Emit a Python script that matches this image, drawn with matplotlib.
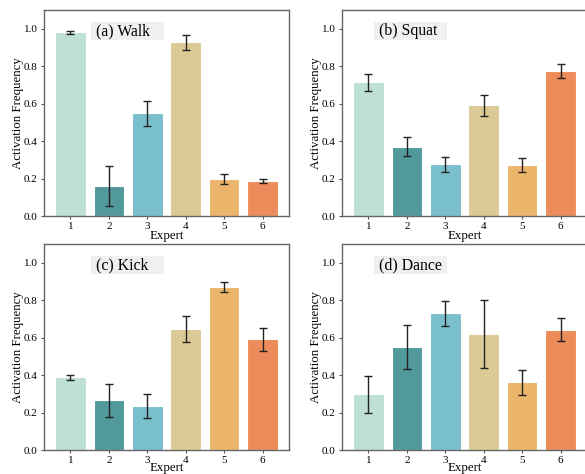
import numpy as np
import matplotlib.pyplot as plt
from matplotlib.patches import Rectangle

plt.rcParams['font.family'] = ['Liberation Serif', 'DejaVu Serif']

experts = ['1', '2', '3', '4', '5', '6']
colors = ['#bfe0d4', '#52999c', '#79c0cc', '#dcca94', '#ebb66b', '#ec8c5a']

titles = ['(a) Walk', '(b) Squat', '(c) Kick', '(d) Dance']
walk = [0.980, 0.161, 0.548, 0.929, 0.196, 0.186]
walk_err = [0.007, 0.107, 0.067, 0.040, 0.027, 0.012]
squat = [0.714, 0.371, 0.277, 0.591, 0.271, 0.773]
squat_err = [0.046, 0.049, 0.040, 0.057, 0.037, 0.038]
kick = [0.388, 0.266, 0.234, 0.648, 0.870, 0.591]
kick_err = [0.014, 0.088, 0.063, 0.070, 0.025, 0.061]
dance = [0.298, 0.548, 0.730, 0.618, 0.361, 0.643]
dance_err = [0.099, 0.117, 0.068, 0.182, 0.065, 0.060]

vals = [walk, squat, kick, dance]
errs = [walk_err, squat_err, kick_err, dance_err]

W, H = 585, 474
fig = plt.figure(figsize=(W / 100, H / 100), dpi=100)

# axes boxes in pixels: left, top
pos = [(44, 10), (342, 10), (44, 244), (342, 244)]
aw, ah = 245, 206
box_x = [0.19, 0.131, 0.19, 0.131]

x = np.arange(1, 7)
for i in range(4):
    l, t = pos[i]
    ax = fig.add_axes([l / W, (H - t - ah) / H, aw / W, ah / H])
    ax.bar(x, vals[i], width=0.8, color=colors, edgecolor='white', linewidth=0.8, zorder=2)
    ax.errorbar(x, vals[i], yerr=errs[i], fmt='none', ecolor='#222222',
                elinewidth=1.0, capsize=3, capthick=1.0, zorder=3)
    ax.set_ylim(0, 1.1)
    ax.set_xticks(x)
    ax.set_xticklabels(experts)
    ax.set_yticks([0, 0.2, 0.4, 0.6, 0.8, 1.0])
    ax.set_yticklabels(['0.0', '0.2', '0.4', '0.6', '0.8', '1.0'])
    ax.tick_params(labelsize=8, length=2.5, width=0.8, color='#555555', pad=2)
    for s in ax.spines.values():
        s.set_color('#666666')
        s.set_linewidth(1.0)
    ax.set_xlabel('Expert', fontsize=9.3, labelpad=-1 if i < 2 else -2)
    ax.set_ylabel('Activation Frequency', fontsize=9.3, labelpad=0)
    ax.add_patch(Rectangle((box_x[i], 0.854), 0.298, 0.088, transform=ax.transAxes,
                           facecolor='#f0f0f0', edgecolor='none', zorder=1))
    ax.text(box_x[i] + 0.022, 0.898, titles[i], transform=ax.transAxes,
            fontsize=11.3, va='center', ha='left', zorder=4)

fig.savefig('out.png', dpi=100)
